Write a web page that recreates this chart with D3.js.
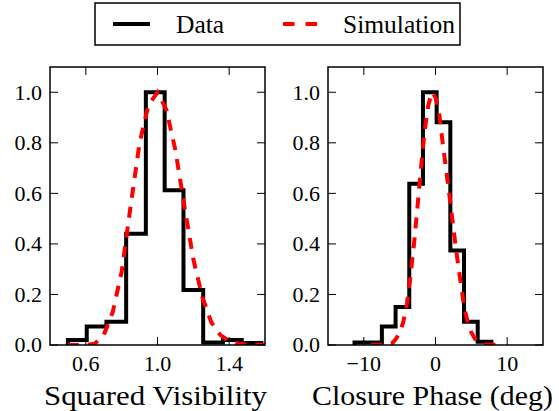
<!DOCTYPE html>
<html>
<head>
<meta charset="utf-8">
<script src="https://cdn.jsdelivr.net/npm/d3@7/dist/d3.min.js"></script>
<style>
  body { margin: 0; background: #fff; }
  svg { display: block; }
</style>
</head>
<body>
<svg id="chart" width="559" height="411"></svg>
<script>
// Squared visibility histogram (step outline, normalised to peak)
const visEdges = [0.50, 0.605, 0.715, 0.825, 0.935, 1.04, 1.145, 1.255, 1.365, 1.47, 1.58];
const visCounts = [0.02, 0.073, 0.092, 0.44, 1.0, 0.612, 0.218, 0.01, 0.02, 0.008];
const visSimX = [0.50, 0.55, 0.60, 0.65, 0.70, 0.75, 0.80, 0.85, 0.90, 0.95, 1.00, 1.05, 1.10, 1.15, 1.20, 1.25, 1.30, 1.35, 1.40, 1.45, 1.50, 1.55, 1.60];
const visSimY = [0, 0, 0, 0.005, 0.04, 0.13, 0.29, 0.55, 0.80, 0.95, 1.0, 0.93, 0.77, 0.55, 0.34, 0.19, 0.09, 0.04, 0.015, 0.006, 0.002, 0.001, 0];
const visTicks = [0.6, 1.0, 1.4];

// Closure phase histogram
const cpEdges = [-11.3, -9.39, -7.48, -5.57, -3.66, -1.75, 0.16, 2.07, 3.98, 5.89, 7.8];
const cpCounts = [0.01, 0.01, 0.073, 0.15, 0.638, 1.0, 0.881, 0.374, 0.092, 0.013];
const cpSimX = [-9, -8, -7, -6, -5.5, -5, -4.5, -4, -3.5, -3, -2.5, -2, -1.5, -1, -0.5, 0, 0.5, 1, 1.5, 2, 2.5, 3, 3.5, 4, 4.5, 5, 5.5, 6, 7, 8, 9];
const cpSimY = [0, 0, 0.001, 0.008, 0.025, 0.05, 0.09, 0.16, 0.27, 0.40, 0.55, 0.71, 0.85, 0.95, 1.0, 0.98, 0.92, 0.80, 0.69, 0.58, 0.46, 0.35, 0.25, 0.15, 0.09, 0.05, 0.025, 0.012, 0.003, 0.001, 0];
const cpTicks = [-10, 0, 10];

const yTicks = [0.0, 0.2, 0.4, 0.6, 0.8, 1.0];
const legendLabels = ["Data", "Simulation"];

const FONT = "'Liberation Serif', monospace";
const svg = d3.select('#chart');
const plotTop = 67, plotBottom = 345;
const y = d3.scaleLinear().domain([0, 1.1]).range([plotBottom, plotTop]);

const panels = [
  { id: 'vis', x0: 50, x1: 265, domain: [0.4, 1.6], edges: visEdges, counts: visCounts,
    simX: visSimX, simY: visSimY, ticks: visTicks, fmt: d3.format('.1f'),
    label: 'Squared Visibility', labelX: 155.5, labelW: 223 },
  { id: 'cp', x0: 328, x1: 543, domain: [-15, 15], edges: cpEdges, counts: cpCounts,
    simX: cpSimX, simY: cpSimY, ticks: cpTicks, fmt: d3.format('d'),
    label: 'Closure Phase (deg)', labelX: 432.5, labelW: 241 }
];

const defs = svg.append('defs');

function txt(sel, size) {
  return sel.append('text').attr('font-size', size).style('font-family', FONT);
}

panels.forEach(p => {
  const x = d3.scaleLinear().domain(p.domain).range([p.x0, p.x1]);
  defs.append('clipPath').attr('id', 'clip-' + p.id)
    .append('rect').attr('x', p.x0).attr('y', plotTop).attr('width', p.x1 - p.x0).attr('height', plotBottom - plotTop);

  const g = svg.append('g');
  const plot = g.append('g').attr('clip-path', `url(#clip-${p.id})`);

  // step outline: up from 0, across each bin, back down to 0
  const pts = [[p.edges[0], 0]];
  p.counts.forEach((c, i) => { pts.push([p.edges[i], c]); pts.push([p.edges[i + 1], c]); });
  pts.push([p.edges[p.edges.length - 1], 0]);
  const line = d3.line().x(d => x(d[0])).y(d => y(d[1]));

  plot.append('path').attr('d', line(pts))
    .attr('fill', 'none').attr('stroke', '#000').attr('stroke-width', 4)
    .attr('stroke-linejoin', 'miter');

  plot.append('path').attr('d', line(p.simX.map((v, i) => [v, p.simY[i]])))
    .attr('fill', 'none').attr('stroke', '#ff0000').attr('stroke-width', 4)
    .attr('stroke-dasharray', '11 9');

  // ticks inside on all four sides
  const tk = 8;
  yTicks.forEach(t => {
    g.append('line').attr('x1', p.x0).attr('x2', p.x0 + tk).attr('y1', y(t)).attr('y2', y(t)).attr('stroke', '#000');
    g.append('line').attr('x1', p.x1).attr('x2', p.x1 - tk).attr('y1', y(t)).attr('y2', y(t)).attr('stroke', '#000');
    txt(g, 22).attr('x', p.x0 - 8).attr('y', y(t)).attr('dy', '0.34em')
      .attr('text-anchor', 'end').text(d3.format('.1f')(t));
  });
  p.ticks.forEach(t => {
    g.append('line').attr('x1', x(t)).attr('x2', x(t)).attr('y1', plotBottom).attr('y2', plotBottom - tk).attr('stroke', '#000');
    g.append('line').attr('x1', x(t)).attr('x2', x(t)).attr('y1', plotTop).attr('y2', plotTop + tk).attr('stroke', '#000');
    txt(g, 22).attr('x', x(t)).attr('y', 371)
      .attr('text-anchor', 'middle').text(p.fmt(t));
  });

  g.append('rect').attr('x', p.x0).attr('y', plotTop).attr('width', p.x1 - p.x0).attr('height', plotBottom - plotTop)
    .attr('fill', 'none').attr('stroke', '#000').attr('stroke-width', 1.5);

  txt(g, 28).attr('x', p.labelX).attr('y', 405)
    .attr('text-anchor', 'middle')
    .attr('textLength', p.labelW).attr('lengthAdjust', 'spacingAndGlyphs')
    .text(p.label);
});

// legend
const lg = svg.append('g');
lg.append('rect').attr('x', 95).attr('y', 3).attr('width', 365).attr('height', 42)
  .attr('fill', '#fff').attr('stroke', '#000').attr('stroke-width', 1.5);
lg.append('line').attr('x1', 113).attr('x2', 150).attr('y1', 24).attr('y2', 24)
  .attr('stroke', '#000').attr('stroke-width', 4);
lg.append('line').attr('x1', 283).attr('x2', 317).attr('y1', 24).attr('y2', 24)
  .attr('stroke', '#ff0000').attr('stroke-width', 4).attr('stroke-dasharray', '11.5 11');
txt(lg, 25.5).attr('x', 176).attr('y', 33).text(legendLabels[0]);
txt(lg, 25.5).attr('x', 343).attr('y', 33).text(legendLabels[1]);
</script>
</body>
</html>
